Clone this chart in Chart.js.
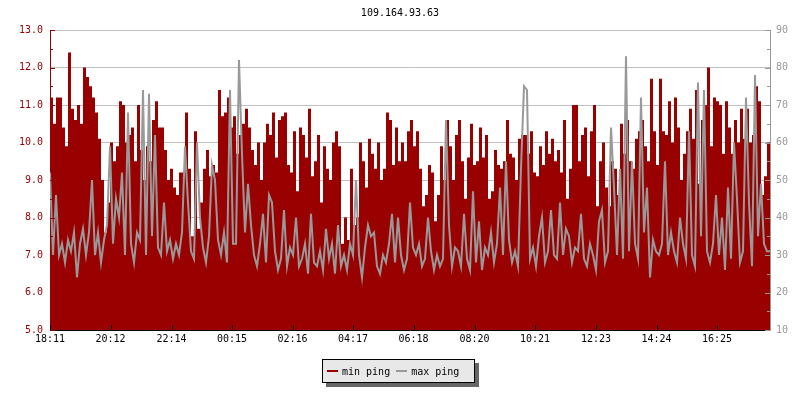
<!DOCTYPE html>
<html>
<head>
<meta charset="utf-8">
<script src="https://cdn.jsdelivr.net/npm/chart.js@4/dist/chart.umd.min.js"></script>
<style>
  body { margin: 0; background: #fff; }
  #wrap { position: relative; width: 800px; height: 400px; }
  #legend {
    position: absolute; left: 322px; top: 359px; width: 153px; height: 24px;
    box-sizing: border-box; border: 1px solid #000; background: #e8e8e8;
    box-shadow: 4px 4px 0 #666;
    font: 10px "DejaVu Sans Mono", monospace; color: #000;
    display: flex; align-items: center; padding-left: 4px; white-space: pre;
  }
  #legend .sw { display: inline-block; width: 11px; height: 2px; margin-right: 4px; }
</style>
</head>
<body>
<div id="wrap">
  <canvas id="grafico" width="800" height="400"></canvas>
  <div id="legend"><span class="sw" style="background:#990000"></span>min ping <span class="sw" style="background:#999999"></span>max ping</div>
</div>
<script>
// minutos desde 18:11, um ponto a cada 6 minutos
const stepMinutes = 6;
const totalMinutes = 1440;

const tickMinutes = [0, 121, 243, 364, 485, 606, 727, 849, 970, 1092, 1213, 1334];
const tickLabels = ['18:11', '20:12', '22:14', '00:15', '02:16', '04:17', '06:18', '08:20', '10:21', '12:23', '14:24', '16:25'];

// min ping (eixo esquerdo)
const minPing = [
  11.2, 10.5, 11.2, 11.2, 10.4, 9.9, 12.4, 10.9, 10.6, 11.0, 10.5, 12.0, 11.75, 11.5, 11.2, 10.8, 10.1, 9.0, 7.6, 8.4, 10.0, 9.5, 9.9, 11.1, 11.0, 10.0, 10.2, 10.4, 9.5, 11.0, 9.8, 9.0, 9.9, 9.5,
  10.6, 11.1, 10.4, 10.4, 9.8, 9.0, 9.3, 8.8, 8.6, 9.2, 9.2, 10.8, 9.3, 7.5, 10.3, 7.7, 8.4, 9.3, 9.8, 9.1, 9.4, 9.2, 11.4, 10.7, 10.8, 11.2, 10.4, 10.7, 9.7, 10.2, 10.5, 10.9, 10.4, 9.8,
  9.4, 10.0, 9.0, 10.0, 10.5, 10.2, 10.8, 9.6, 10.6, 10.7, 10.8, 9.4, 9.2, 10.3, 8.7, 10.4, 10.2, 9.6, 10.9, 9.1, 9.5, 10.2, 8.4, 9.9, 9.3, 9.0, 10.0, 10.3, 9.9, 7.3, 8.0, 7.4, 9.3, 7.8,
  8.0, 10.0, 9.5, 8.8, 10.1, 9.7, 9.3, 10.0, 9.0, 9.3, 10.8, 10.6, 9.4, 10.4, 9.5, 10.0, 9.5, 10.3, 10.6, 9.9, 10.3, 9.3, 8.3, 8.6, 9.4, 9.2, 7.9, 8.6, 9.9, 9.0, 10.6, 9.9, 9.0, 10.2,
  10.6, 9.5, 8.5, 9.6, 10.5, 9.4, 9.5, 10.4, 9.6, 10.2, 8.5, 8.7, 9.8, 9.4, 9.3, 9.5, 10.6, 9.7, 9.6, 9.0, 10.1, 10.2, 10.2, 9.7, 10.3, 9.2, 9.1, 9.9, 9.4, 10.3, 9.7, 10.1, 9.5, 9.8,
  9.2, 10.6, 8.5, 9.3, 11.0, 11.0, 9.5, 10.2, 10.4, 9.1, 10.3, 11.0, 8.3, 9.5, 10.0, 8.8, 8.3, 9.5, 9.3, 8.6, 10.5, 9.7, 10.6, 9.5, 9.3, 10.1, 10.3, 10.6, 9.9, 9.5, 11.7, 10.3, 9.4, 11.7,
  10.3, 10.2, 11.1, 10.0, 11.2, 10.4, 9.0, 9.7, 10.3, 10.9, 10.1, 11.4, 8.9, 10.6, 11.0, 12.0, 9.9, 11.2, 11.1, 11.0, 9.7, 11.1, 10.4, 9.7, 10.6, 10.0, 10.9, 10.1, 10.9, 10.0, 10.2, 11.5, 11.1, 8.6,
  9.1, 10.0
];

// max ping (eixo direito)
const maxPing = [
  52, 30, 46, 30, 33, 28, 34, 31, 36, 24, 33, 37, 30, 36, 50, 30, 36, 28, 34, 38, 59, 33, 45, 40, 52, 30, 68, 33, 28, 36, 34, 74, 30, 73,
  35, 62, 32, 30, 44, 31, 34, 29, 33, 30, 36, 59, 44, 31, 29, 60, 40, 32, 28, 35, 54, 50, 34, 30, 36, 28, 74, 33, 33, 82, 57, 36, 49, 38,
  30, 27, 33, 41, 28, 46, 44, 31, 26, 29, 42, 27, 32, 30, 40, 27, 29, 33, 25, 41, 28, 27, 31, 26, 37, 29, 33, 25, 38, 27, 30, 26, 33, 30,
  50, 30, 24, 32, 38, 35, 36, 27, 25, 30, 28, 33, 41, 28, 40, 30, 26, 29, 44, 32, 30, 33, 27, 29, 40, 31, 26, 30, 27, 29, 66, 38, 27, 32,
  31, 27, 41, 29, 26, 47, 28, 39, 26, 32, 30, 36, 28, 33, 48, 30, 55, 34, 28, 31, 27, 53, 75, 74, 29, 32, 27, 35, 40, 28, 31, 42, 30, 29,
  44, 30, 37, 35, 28, 32, 31, 41, 29, 27, 33, 30, 26, 39, 42, 28, 31, 64, 48, 30, 53, 29, 83, 31, 55, 33, 29, 72, 36, 48, 24, 34, 31, 30,
  33, 55, 30, 36, 31, 28, 40, 33, 29, 63, 30, 27, 76, 35, 74, 31, 28, 33, 46, 30, 40, 26, 48, 29, 60, 45, 28, 31, 72, 44, 27, 78, 35, 49,
  33, 31
];

const vermelho = '#990000';
const cinza = '#999999';

function pontos(valores) {
    const pts = valores.map((v, i) => ({ x: i * stepMinutes, y: v }));
    pts.push({ x: totalMinutes, y: valores[valores.length - 1] });
    return pts;
}

// marcas de escala para dentro, como no original
const marcasInternas = {
    id: 'marcasInternas',
    afterDatasetsDraw(chart) {
        const ctx = chart.ctx;
        const area = chart.chartArea;
        const y1 = chart.scales.y;
        const y2 = chart.scales.y2;
        const x = chart.scales.x;
        ctx.save();
        ctx.lineWidth = 1;

        ctx.strokeStyle = vermelho;
        for (let v = 5; v <= 13; v += 0.5) {
            const py = Math.round(y1.getPixelForValue(v)) + 0.5;
            const len = Number.isInteger(v) ? 5 : 3;
            ctx.beginPath();
            ctx.moveTo(area.left, py);
            ctx.lineTo(area.left + len, py);
            ctx.stroke();
        }

        ctx.strokeStyle = cinza;
        for (let v = 10; v <= 90; v += 5) {
            const py = Math.round(y2.getPixelForValue(v)) + 0.5;
            const len = v % 10 === 0 ? 5 : 3;
            ctx.beginPath();
            ctx.moveTo(area.right, py);
            ctx.lineTo(area.right - len, py);
            ctx.stroke();
        }

        ctx.strokeStyle = '#000';
        tickMinutes.forEach(m => {
            const px = Math.round(x.getPixelForValue(m)) + 0.5;
            ctx.beginPath();
            ctx.moveTo(px, area.bottom);
            ctx.lineTo(px, area.bottom - 5);
            ctx.stroke();
        });
        ctx.restore();
    }
};

Chart.defaults.font.family = '"DejaVu Sans Mono", monospace';
Chart.defaults.font.size = 10;

new Chart(document.getElementById('grafico').getContext('2d'), {
    type: 'line',
    data: {
        datasets: [
            {
                label: 'min ping',
                data: pontos(minPing),
                yAxisID: 'y',
                stepped: true,
                fill: 'start',
                backgroundColor: vermelho,
                borderColor: vermelho,
                borderWidth: 0,
                pointRadius: 0,
                order: 2
            },
            {
                label: 'max ping',
                data: pontos(maxPing),
                yAxisID: 'y2',
                tension: 0,
                fill: false,
                borderColor: cinza,
                borderWidth: 2,
                pointRadius: 0,
                order: 1
            }
        ]
    },
    options: {
        responsive: false,
        animation: false,
        devicePixelRatio: 1,
        layout: { padding: 0 },
        plugins: {
            legend: { display: false },
            tooltip: { enabled: false },
            title: {
                display: true,
                text: '109.164.93.63',
                color: '#000',
                font: { size: 10, weight: 'normal' },
                padding: { top: 7, bottom: 11 }
            }
        },
        scales: {
            x: {
                type: 'linear',
                min: 0,
                max: totalMinutes,
                afterBuildTicks: scale => { scale.ticks = tickMinutes.map(v => ({ value: v })); },
                afterFit: scale => { scale.height = 70; },
                ticks: {
                    autoSkip: false,
                    maxRotation: 0,
                    color: '#000',
                    padding: 3,
                    callback: (value, index) => tickLabels[index]
                },
                grid: { display: false, drawTicks: false },
                border: { display: true, color: '#000' }
            },
            y: {
                position: 'left',
                min: 5,
                max: 13,
                afterFit: scale => { scale.width = 50; },
                ticks: {
                    stepSize: 1,
                    color: vermelho,
                    padding: 7,
                    callback: v => v.toFixed(1)
                },
                grid: { color: '#c0c0c0', drawTicks: false },
                border: { display: true, color: vermelho }
            },
            y2: {
                position: 'right',
                min: 10,
                max: 90,
                afterFit: scale => { scale.width = 30; },
                ticks: {
                    stepSize: 10,
                    color: cinza,
                    padding: 6
                },
                grid: { display: false, drawTicks: false },
                border: { display: true, color: cinza }
            }
        }
    },
    plugins: [marcasInternas]
});
</script>
</body>
</html>
